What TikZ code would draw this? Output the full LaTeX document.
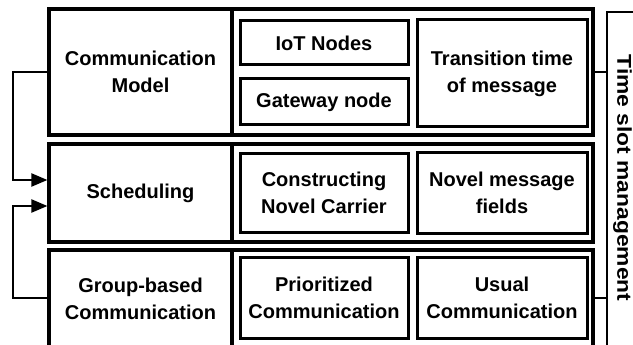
\documentclass[tikz,border=0pt]{standalone}
\usepackage{fontspec}
\setmainfont{Liberation Sans}
\usepackage{graphicx}
\usetikzlibrary{arrows.meta}
\begin{document}
\begin{tikzpicture}[x=1pt,y=-1pt,
  txt/.style={font=\fontsize{20}{27}\selectfont\bfseries, align=center, inner sep=0pt},
  rowbox/.style={txt, draw, line width=3.2pt},
  inbox/.style={txt, draw, line width=3pt},
  conn/.style={line width=2.2pt},
  arr/.style={conn, -{Triangle[length=16pt,width=13pt]}}]
\useasboundingbox (0,0) rectangle (633,345);
\clip (0,0) rectangle (633,345);
% rows
\node[rowbox, minimum width=183pt, minimum height=126pt] (row1L) at (140.5,72) {Communication\\Model};
\node[rowbox, minimum width=361pt, minimum height=126pt] (row1R) at (412.5,72) {};
\node[rowbox, minimum width=183pt, minimum height=98pt] (row2L) at (140.5,193) {Scheduling};
\node[rowbox, minimum width=361pt, minimum height=98pt] (row2R) at (412.5,193) {};
\node[rowbox, minimum width=183pt, minimum height=97pt] (row3L) at (140.5,298.5) {Group-based\\Communication};
\node[rowbox, minimum width=361pt, minimum height=97pt] (row3R) at (412.5,298.5) {};
% inner boxes
\node[inbox, minimum width=168pt, minimum height=44pt] (iot) at (324,43) {IoT Nodes};
\node[inbox, minimum width=168pt, minimum height=46pt] (gw) at (324,102) {Gateway node};
\node[inbox, minimum width=170pt, minimum height=107pt] (trans) at (502,73.5) {Transition time\\of message};
\node[inbox, minimum width=168pt, minimum height=78pt] (cnc) at (324,193) {Constructing\\Novel Carrier};
\node[inbox, minimum width=170pt, minimum height=80pt] (nmf) at (502,193) {Novel message\\fields};
\node[inbox, minimum width=168pt, minimum height=81pt] (prio) at (324,298) {Prioritized\\Communication};
\node[inbox, minimum width=170pt, minimum height=81pt] (usual) at (502,298) {Usual\\Communication};
% time slot management
\node[draw, line width=2.5pt, minimum width=43pt, minimum height=348pt, inner sep=0pt] (tsm) at (628.5,186) {};
\node[txt, rotate=-90] (tsmtext) at (622.5,178) {\scalebox{1.14}[1]{Time slot management}};
% connectors right
\draw[conn] (row1R.east) -- (row1R.east -| tsm.west);
\draw[conn] ([yshift=0.5pt]row3R.east) -- ([yshift=0.5pt]row3R.east -| tsm.west);
% connectors left
\coordinate (lx) at (13,0);
\draw[arr] (row1L.west) -- (row1L.west -| lx) |- ([yshift=13pt]row2L.west);
\draw[arr] ([yshift=0.5pt]row3L.west) -- ([yshift=0.5pt]row3L.west -| lx) |- ([yshift=-13pt]row2L.west);
\end{tikzpicture}
\end{document}
